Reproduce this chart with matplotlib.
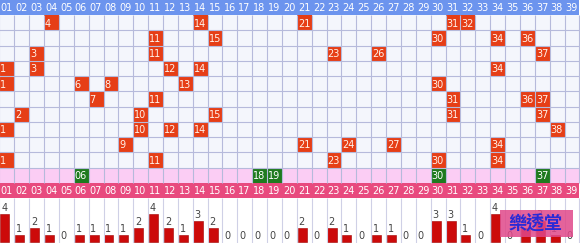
import matplotlib.pyplot as plt
from matplotlib.patches import Rectangle
from collections import Counter

# ---- data
numbers = list(range(1, 40))
draws = [
    [4, 14, 21, 31, 32],
    [11, 15, 30, 34, 36],
    [3, 11, 23, 26, 37],
    [1, 3, 12, 14, 34],
    [1, 6, 8, 13, 30],
    [7, 11, 31, 36, 37],
    [2, 10, 15, 31, 37],
    [1, 10, 12, 14, 38],
    [9, 21, 24, 27, 34],
    [1, 11, 23, 30, 34],
]
highlight = [6, 18, 19, 30, 37]

counts = Counter(n for d in draws for n in d)
hits = [counts.get(n, 0) for n in numbers]

# ---- colours
BLUE_HEAD = "#6c94ee"
PINK_HEAD = "#e84a7e"
PINK_ROW = "#fbcdf4"
CELL_BG = "#f4f6fc"
GRID = "#b6badb"
RED = "#e63e16"
GREEN = "#1e7a1e"
BAR = "#cc0a0a"

FS = 7
W, H = 580, 243
top_h = 198

fig = plt.figure(figsize=(W / 100, H / 100), dpi=100)
fig.patch.set_facecolor("white")

# --- top part: header + draw rows + highlight row + pink header
ax = fig.add_axes([0, 1 - top_h / H, 1, top_h / H])
ax.set_xlim(0.04, 39.04)
ax.set_ylim(13, 0)
ax.axis("off")

nrows = len(draws)
ax.add_patch(Rectangle((0, 0), 39, 1, color=BLUE_HEAD, lw=0))
ax.add_patch(Rectangle((0, 1), 39, nrows, color=CELL_BG, lw=0))
ax.add_patch(Rectangle((0, 1 + nrows), 39, 1, color=PINK_ROW, lw=0))
ax.add_patch(Rectangle((0, 2 + nrows), 39, 1, color=PINK_HEAD, lw=0))

# grid lines
ax.vlines(range(0, 40), 1, 2 + nrows, color=GRID, lw=0.8)
ax.hlines(range(2, 2 + nrows), 0, 39, color=GRID, lw=0.8)

for i, n in enumerate(numbers):
    ax.text(i + 0.07, 0.55, f"{n:02d}", color="white", fontsize=FS,
            ha="left", va="center")
    ax.text(i + 0.07, 2.55 + nrows, f"{n:02d}", color="white", fontsize=FS,
            ha="left", va="center")

for r, d in enumerate(draws):
    y = 1 + r
    for n in d:
        ax.add_patch(Rectangle((n - 1, y), 1, 1, color=RED, lw=0))
        ax.text(n - 1 + 0.07, y + 0.55, str(n) if n > 9 else str(n),
                color="#fff2ea", fontsize=FS, ha="left", va="center")

y = 1 + nrows
for n in highlight:
    ax.add_patch(Rectangle((n - 1, y + 0.05), 1, 0.95, color=GREEN, lw=0))
    ax.text(n - 1 + 0.07, y + 0.55, f"{n:02d}", color="white",
            fontsize=FS, ha="left", va="center")

# --- bottom part: hit counts
ax2 = fig.add_axes([0, 0, 1, (H - top_h) / H])
ax2.set_xlim(0.04, 39.04)
ax2.set_ylim(-0.14, 6.29)
ax2.axis("off")
ax2.vlines(range(0, 40), -0.2, 6.3, color="#cfd0e6", lw=0.8)

for i, c in enumerate(hits):
    if c:
        ax2.bar(i + 0.05, c, width=0.62, align="edge", color=BAR,
                edgecolor="#a00000", lw=0.4)
    ax2.text(i + 0.12, c + 0.1, str(c), color="#444444", fontsize=FS,
             ha="left", va="bottom")

# watermark box
fig.patches.append(Rectangle((500 / W, (H - 237) / H), 73 / W, 27 / H,
                             transform=fig.transFigure, color="#e0488a",
                             alpha=0.85, lw=0))
fig.text(536 / W, (H - 223) / H, "樂透堂", color="#2a2ad6", fontsize=13,
         family=["Noto Sans CJK TC", "DejaVu Sans"], fontweight="bold",
         ha="center", va="center")

fig.savefig("out.png", dpi=100)
